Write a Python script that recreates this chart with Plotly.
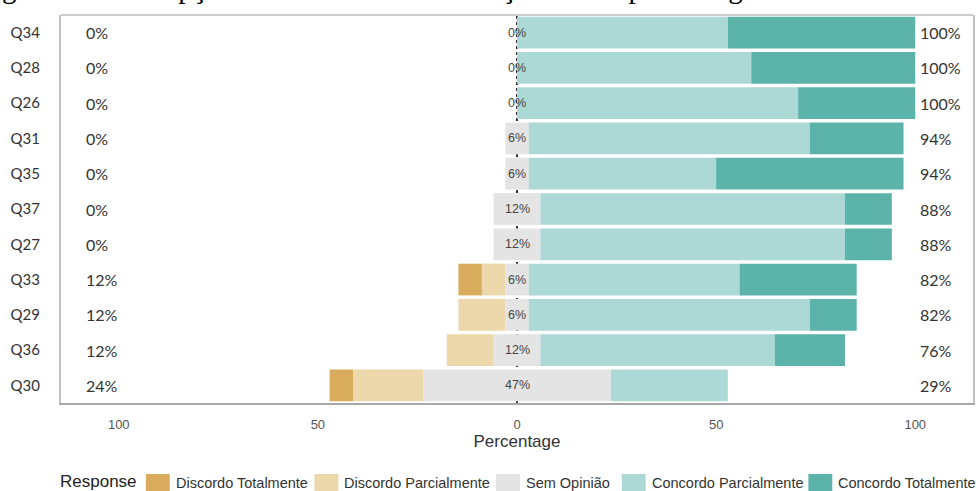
import plotly.graph_objects as go

# Questions, top to bottom
questions = ["Q34", "Q28", "Q26", "Q31", "Q35", "Q37", "Q27", "Q33", "Q29", "Q36", "Q30"]
n_students = 17

# Number of students per response level
discordo_totalmente = [0, 0, 0, 0, 0, 0, 0, 1, 0, 0, 1]
discordo_parcialmente = [0, 0, 0, 0, 0, 0, 0, 1, 2, 2, 3]
sem_opiniao = [0, 0, 0, 1, 1, 2, 2, 1, 1, 2, 8]
concordo_parcialmente = [9, 10, 12, 12, 8, 13, 13, 9, 12, 10, 5]
concordo_totalmente = [8, 7, 5, 4, 8, 2, 2, 5, 2, 3, 0]

levels = ["Discordo Totalmente", "Discordo Parcialmente", "Sem Opinião",
          "Concordo Parcialmente", "Concordo Totalmente"]
colors = ["#d8ac5c", "#ecd8aa", "#e4e4e4", "#acd9d6", "#5bb3a9"]


def pct(counts):
    return [c / n_students * 100 for c in counts]


dt = pct(discordo_totalmente)
dp = pct(discordo_parcialmente)
so = pct(sem_opiniao)
cp = pct(concordo_parcialmente)
ct = pct(concordo_totalmente)

fig = go.Figure()
bar_kw = dict(orientation="h", y=questions, showlegend=False, hoverinfo="skip",
              marker_line_width=0)

# Neutral split across zero, then stacked outward on each side
fig.add_trace(go.Bar(x=[-v / 2 for v in so], marker_color=colors[2], **bar_kw))
fig.add_trace(go.Bar(x=[v / 2 for v in so], marker_color=colors[2], **bar_kw))
fig.add_trace(go.Bar(x=[-v for v in dp], marker_color=colors[1], **bar_kw))
fig.add_trace(go.Bar(x=cp, marker_color=colors[3], **bar_kw))
fig.add_trace(go.Bar(x=[-v for v in dt], marker_color=colors[0], **bar_kw))
fig.add_trace(go.Bar(x=ct, marker_color=colors[4], **bar_kw))

sans = "Arial, 'Liberation Sans', sans-serif"
q_font = dict(family="Lato, 'Open Sans', sans-serif", size=15, color="#333333")
lab_font = dict(family="Lato, 'Open Sans', sans-serif", size=16, color="#333333")
annotations = []
for i, q in enumerate(questions):
    neg = dt[i] + dp[i]
    pos = cp[i] + ct[i]
    annotations.append(dict(x=-108.8, y=q, xref="x", yref="y", text=f"{round(neg)}%",
                            showarrow=False, xanchor="left", font=lab_font))
    annotations.append(dict(x=100.6, y=q, xref="x", yref="y", text=f"{round(pos)}%",
                            showarrow=False, xanchor="left", font=lab_font))
    annotations.append(dict(x=0, y=q, xref="x", yref="y", text=f"{round(so[i])}%",
                            showarrow=False, xanchor="center",
                            font=dict(family=sans, size=12.5, color="#444444")))

# Page geometry (pixels) used for the caption and legend placement
W, H = 979, 491
ML, MR, MT, MB = 61, 4, 15, 88
PW, PH = W - ML - MR, H - MT - MB


def px_x(p):
    return (p - ML) / PW


def px_y(p):
    return (H - MB - p) / PH


# Caption running across the top
annotations.append(dict(
    x=px_x(0), y=px_y(9), xref="paper", yref="paper", xanchor="left", yanchor="bottom",
    text="gura 29 - Percepção dos estudantes em relação à sua aprendizagem com o uso do E",
    showarrow=False, yshift=3,
    font=dict(family="'Liberation Serif', 'DejaVu Serif', serif", size=29, color="#000000")))

# Legend row
leg_font = dict(family=sans, size=14.5, color="#333333")
annotations.append(dict(x=px_x(58), y=px_y(481), xref="paper", yref="paper",
                        xanchor="left", yanchor="middle", text="Response", showarrow=False,
                        font=dict(family=sans, size=17, color="#222222")))
shapes = []
swatch_x = [146, 315, 497, 623, 810]
for sx, lvl, col in zip(swatch_x, levels, colors):
    shapes.append(dict(type="rect", xref="paper", yref="paper",
                       x0=px_x(sx), x1=px_x(sx + 24), y0=px_y(474), y1=px_y(494),
                       fillcolor=col, line_width=0))
    annotations.append(dict(x=px_x(sx + 28), y=px_y(483), xref="paper", yref="paper",
                            xanchor="left", yanchor="middle", text=lvl, showarrow=False,
                            font=leg_font))

# Dotted zero line behind the bars
shapes.append(dict(type="line", xref="x", yref="paper", x0=0, x1=0, y0=0, y1=1,
                   layer="below", line=dict(color="#333333", width=2, dash="dot")))
# Light top edge of the panel
shapes.append(dict(type="line", xref="paper", yref="paper", x0=0, x1=1, y0=1, y1=1,
                   line=dict(color="#cccccc", width=2)))

fig.update_layout(
    width=W, height=H,
    margin=dict(l=ML, r=MR, t=MT, b=MB, pad=0),
    barmode="relative", bargap=0.1,
    plot_bgcolor="white", paper_bgcolor="white",
    annotations=annotations, shapes=shapes,
    xaxis=dict(range=[-114.5, 114.5], tickvals=[-100, -50, 0, 50, 100],
               ticktext=["100", "50", "0", "50", "100"],
               tickfont=dict(family=sans, size=13, color="#555555"),
               showgrid=False, zeroline=False, showline=True, mirror=False,
               linecolor="#a8a8a8", linewidth=2, ticks="", ticklabelstandoff=8,
               title=dict(text="Percentage", standoff=5,
                          font=dict(family=sans, size=17, color="#333333"))),
    yaxis=dict(categoryorder="array", categoryarray=questions, autorange="reversed",
               tickfont=q_font, showgrid=False, zeroline=False, showline=True,
               mirror=True, linecolor="#c0c0c0", linewidth=2, ticks="",
               ticklabelstandoff=16),
)

fig.write_html("out.html")
